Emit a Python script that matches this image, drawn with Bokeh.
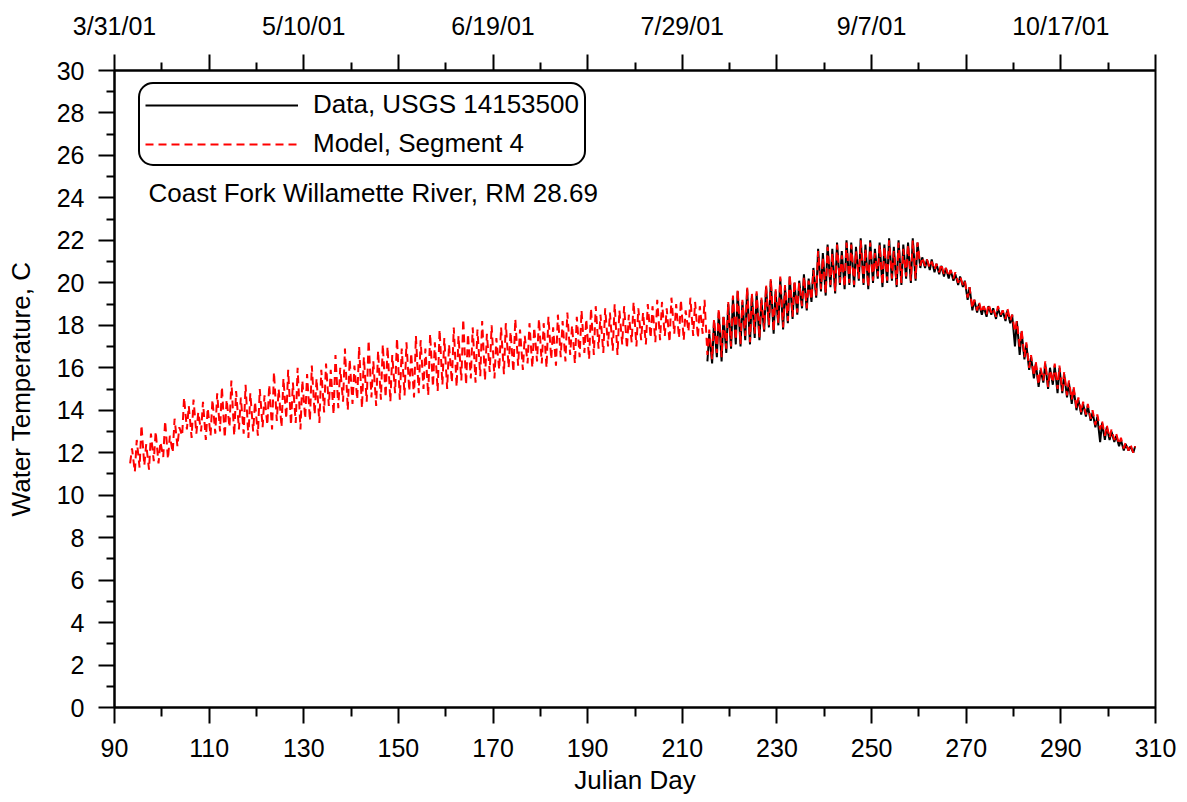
from bokeh.plotting import figure
from bokeh.models import Range1d, LinearAxis, FixedTicker, Legend, LegendItem, Label
from bokeh.embed import file_html
from bokeh.resources import INLINE

# ---------------- data ----------------
# Model, Segment 4: daily minimum / maximum water temperature (C), Julian days 93..305
model_first_day = 93
model_min = [
    11.5, 11.1, 11.3, 11.4, 11.2, 11.6, 11.5, 11.8, 11.7,            # 93-101
    12.0, 12.3,                                                      # 102-103
    12.8, 13.1, 12.7, 12.9, 13.0, 12.6, 12.8,                        # 104-110
    12.9, 13.0, 12.7, 13.2, 12.8, 13.1, 12.9, 12.7, 13.0, 12.8, 13.2,  # 111-121
    13.3, 13.1, 13.5, 13.2, 13.6, 13.3, 13.4, 13.1, 13.6, 13.5, 13.8, 13.4,  # 122-133
    13.9, 14.2, 13.8, 14.1, 14.4, 14.0, 14.3, 14.5, 14.1, 14.4, 14.6, 14.2, 14.5,  # 134-146
    14.6, 14.4, 14.8, 14.5, 14.7, 14.9, 14.6,                        # 147-153
    14.8, 15.0, 14.7, 15.1, 14.9, 15.2, 15.0, 15.3, 15.1, 15.4, 15.2, 15.5,  # 154-165
    15.3, 15.6, 15.4, 15.8, 15.5, 15.9, 15.7, 16.0, 15.8, 16.1, 15.9, 16.2, 16.0, 16.3,  # 166-179
    16.2, 16.0, 16.4, 16.1, 16.5, 16.3, 16.6, 16.2, 16.5, 16.7, 16.4,  # 180-190
    16.6, 16.9, 16.7, 17.0, 16.8, 16.6, 17.1, 16.9, 17.2, 17.0, 17.3, 17.1, 17.4, 17.2,  # 191-204
    17.3, 17.5, 17.2, 17.6, 17.4, 17.3, 17.7, 17.5, 17.4, 17.6,      # 205-214
    16.6, 16.4, 16.7, 16.5, 16.9,                                    # 215-219
    17.0, 17.3, 17.1, 17.5, 17.2, 17.6, 17.4,                        # 220-226
    17.8, 18.0, 17.7, 18.1, 17.9, 18.2, 18.4,                        # 227-233
    18.6, 18.9, 18.8, 19.2,                                          # 234-237
    19.4, 19.7, 19.5, 19.9, 19.6, 20.0, 19.8,                        # 238-244
    20.0, 19.9, 20.2, 20.0, 19.8, 20.1, 20.3, 19.9, 20.1, 20.2, 19.9, 20.0, 20.3, 20.1, 20.2,  # 245-259
    20.8, 20.8, 20.7, 20.6, 20.5, 20.4, 20.3, 20.2, 20.0, 19.9,      # 260-269
    19.3, 18.8,                                                      # 270-271
    18.7, 18.6, 18.5, 18.6, 18.4, 18.5, 18.3, 18.2,                  # 272-279
    17.7, 17.0, 16.5, 16.0, 15.6,                                    # 280-284
    15.2, 15.4, 15.1, 15.3, 15.0, 14.9, 14.7, 14.5,                  # 285-292
    14.1, 13.9, 13.8, 13.6,                                          # 293-296
    13.3, 13.1, 12.8, 12.7,                                          # 297-300
    12.6, 12.4, 12.2, 12.1, 12.0,                                    # 301-305
]
model_max = [
    12.2, 12.6, 13.3, 12.4, 12.9, 13.0, 12.5, 13.5, 12.8,            # 93-101
    13.6, 13.2,                                                      # 102-103
    14.6, 14.2, 14.5, 13.9, 14.4, 14.1, 14.5,                        # 104-110
    14.8, 15.1, 14.5, 15.4, 14.9, 14.6, 15.2, 14.8, 14.4, 15.0, 14.7,  # 111-121
    15.2, 15.8, 15.0, 15.5, 15.9, 15.3, 16.0, 15.4, 15.7, 16.1, 15.5, 15.9,  # 122-133
    16.2, 15.9, 16.6, 16.0, 16.9, 16.4, 16.1, 17.0, 16.5, 17.3, 16.3, 16.8, 17.1,  # 134-146
    17.0, 16.6, 17.4, 16.9, 17.2, 16.7, 17.5,                        # 147-153
    17.3, 16.9, 17.6, 17.2, 17.8, 17.4, 17.1, 17.9, 17.5, 18.3, 17.6, 17.9,  # 154-165
    17.8, 18.2, 17.6, 18.0, 17.4, 17.9, 18.1, 17.7, 18.3, 17.8, 17.5, 18.1, 17.9, 18.3,  # 166-179
    18.1, 18.4, 17.9, 18.5, 18.2, 18.6, 18.0, 18.4, 18.7, 18.3, 18.8,  # 180-190
    18.9, 18.5, 18.8, 18.6, 19.0, 18.7, 18.9, 18.5, 19.1, 18.8, 18.6, 19.0, 18.9, 19.2,  # 191-204
    19.1, 18.8, 19.3, 19.0, 19.2, 18.7, 19.3, 19.1, 18.9, 19.2,      # 205-214
    17.8, 18.3, 18.8, 18.5, 19.1,                                    # 215-219
    19.4, 19.7, 19.2, 19.8, 19.5, 19.6, 19.3,                        # 220-226
    19.9, 20.2, 19.7, 20.3, 19.9, 20.4, 20.1,                        # 227-233
    20.0, 20.3, 20.1, 20.6,                                          # 234-237
    21.5, 21.2, 21.7, 21.4, 21.8, 21.3, 21.9,                        # 238-244
    21.8, 21.5, 22.0, 21.6, 21.9, 21.4, 21.8, 21.7, 22.0, 21.5, 21.9, 21.6, 21.8, 22.0, 21.9,  # 245-259
    21.2, 21.1, 21.0, 20.9, 20.9, 20.7, 20.6, 20.5, 20.3, 20.1,      # 260-269
    19.8, 19.2,                                                      # 270-271
    19.1, 18.9, 19.0, 18.8, 18.9, 18.7, 18.8, 18.5,                  # 272-279
    18.2, 17.8, 17.2, 16.6, 16.3,                                    # 280-284
    16.0, 16.3, 15.9, 16.2, 16.1, 15.8, 15.4, 15.1,                  # 285-292
    14.6, 14.4, 14.3, 14.0,                                          # 293-296
    13.8, 13.5, 13.3, 13.1,                                          # 297-300
    12.9, 12.7, 12.5, 12.4, 12.3,                                    # 301-305
]

# Data, USGS 14153500: daily minimum / maximum (C), Julian days 215..305
data_first_day = 215
data_min = [
    16.3, 16.2, 16.5, 16.3, 16.7,                                    # 215-219
    16.9, 17.1, 17.0, 17.3, 17.1, 17.4, 17.3,                        # 220-226
    17.7, 17.9, 17.6, 18.0, 17.8, 18.1, 18.3,                        # 227-233
    18.5, 18.8, 18.7, 19.1,                                          # 234-237
    19.3, 19.6, 19.4, 19.8, 19.5, 19.9, 19.7,                        # 238-244
    19.9, 19.8, 20.1, 19.9, 19.7, 20.0, 20.2, 19.8, 20.0, 20.1, 19.8, 19.9, 20.2, 20.0, 20.1,  # 245-259
    20.7, 20.7, 20.6, 20.5, 20.4, 20.3, 20.2, 20.1, 19.9, 19.8,      # 260-269
    19.2, 18.7,                                                      # 270-271
    18.6, 18.5, 18.4, 18.5, 18.3, 18.4, 18.2, 18.1,                  # 272-279
    17.0, 16.6, 16.4, 15.9, 15.5,                                    # 280-284
    15.1, 15.3, 15.0, 15.2, 14.8, 14.8, 14.6, 14.3,                  # 285-292
    14.0, 13.8, 13.7, 13.5,                                          # 293-296
    13.2, 12.5, 12.6, 12.6,                                          # 297-300
    12.5, 12.3, 12.1, 12.1, 12.0,                                    # 301-305
]
data_max = [
    17.6, 18.2, 18.6, 18.4, 19.0,                                    # 215-219
    19.3, 19.6, 19.1, 19.7, 19.4, 19.5, 19.2,                        # 220-226
    19.8, 20.1, 19.6, 20.2, 19.8, 20.3, 20.0,                        # 227-233
    20.1, 20.4, 20.2, 20.7,                                          # 234-237
    21.6, 21.4, 21.8, 21.6, 21.9, 21.5, 22.0,                        # 238-244
    21.9, 21.7, 22.1, 21.8, 22.0, 21.6, 21.9, 21.8, 22.1, 21.7, 22.0, 21.8, 21.9, 22.1, 21.9,  # 245-259
    21.2, 21.1, 21.1, 20.9, 20.8, 20.7, 20.6, 20.4, 20.3, 20.1,      # 260-269
    19.8, 19.2,                                                      # 270-271
    19.0, 18.9, 18.9, 18.8, 18.8, 18.7, 18.7, 18.5,                  # 272-279
    18.2, 17.7, 17.1, 16.5, 16.2,                                    # 280-284
    15.9, 16.2, 16.0, 16.1, 16.0, 15.7, 15.3, 15.0,                  # 285-292
    14.5, 14.3, 14.2, 13.9,                                          # 293-296
    13.7, 13.4, 13.2, 13.0,                                          # 297-300
    12.8, 12.6, 12.4, 12.3, 12.3,                                    # 301-305
]

# axis ticks / labels
x_major = [90, 110, 130, 150, 170, 190, 210, 230, 250, 270, 290, 310]
x_minor = [100, 120, 140, 160, 180, 200, 220, 240, 260, 280, 300]
y_major = [0, 2, 4, 6, 8, 10, 12, 14, 16, 18, 20, 22, 24, 26, 28, 30]
y_minor = [1, 3, 5, 7, 9, 11, 13, 15, 17, 19, 21, 23, 25, 27, 29]
date_label_days = [90, 130, 170, 210, 250, 290]
date_labels = ["3/31/01", "5/10/01", "6/19/01", "7/29/01", "9/7/01", "10/17/01"]

legend_labels = ["Data, USGS 14153500", "Model, Segment 4"]
site_label = "Coast Fork Willamette River, RM 28.69"


def diurnal(first_day, mins, maxs):
    """Trace through the daily minimum (morning) and maximum (afternoon)."""
    xs, ys = [], []
    for i, (lo, hi) in enumerate(zip(mins, maxs)):
        d = first_day + i
        xs += [d + 0.3, d + 0.7]
        ys += [lo, hi]
    return xs, ys


mx, my = diurnal(model_first_day, model_min, model_max)
dx, dy = diurnal(data_first_day, data_min, data_max)

FONT = "Liberation Sans"
TICK_FS = "25px"
LABEL_FS = "26px"

p = figure(width=1180, height=802, output_backend="svg", toolbar_location=None,
           x_range=Range1d(90, 310), y_range=Range1d(0, 30),
           min_border_left=114, min_border_right=25,
           min_border_top=70, min_border_bottom=95)
p.background_fill_color = "white"
p.border_fill_color = "white"
p.outline_line_color = "black"
p.outline_line_width = 2
p.xgrid.visible = False
p.ygrid.visible = False


def style_axis(ax, major, minor, standoff, tick_out, minor_out):
    ax.ticker = FixedTicker(ticks=major, minor_ticks=minor)
    ax.axis_line_color = "black"
    ax.axis_line_width = 2
    ax.major_tick_line_color = "black"
    ax.major_tick_line_width = 2
    ax.minor_tick_line_color = "black"
    ax.minor_tick_line_width = 2
    ax.major_tick_in = 0
    ax.major_tick_out = tick_out
    ax.minor_tick_in = 0
    ax.minor_tick_out = minor_out
    ax.major_label_text_font = FONT
    ax.major_label_text_font_size = TICK_FS
    ax.major_label_text_color = "black"
    ax.major_label_standoff = standoff
    ax.axis_label_text_font = FONT
    ax.axis_label_text_font_size = LABEL_FS
    ax.axis_label_text_font_style = "normal"
    ax.axis_label_text_color = "black"


xa = p.xaxis[0]
style_axis(xa, x_major, x_minor, 15, 16, 9)
xa.axis_label = "Julian Day"
xa.axis_label_standoff = 5

ya = p.yaxis[0]
style_axis(ya, y_major, y_minor, 14, 16, 8)
ya.axis_label = "Water Temperature, C"
ya.axis_label_standoff = 18

top = LinearAxis()
style_axis(top, x_major, x_minor, 15, 16, 8)
overrides = {d: "" for d in x_major}
overrides.update({d: s for d, s in zip(date_label_days, date_labels)})
top.major_label_overrides = overrides
p.add_layout(top, "above")

r_data = p.line(dx, dy, line_color="black", line_width=2)
r_model = p.line(mx, my, line_color="#ff0000", line_width=2, line_dash="8 5")

legend = Legend(items=[LegendItem(label=legend_labels[0], renderers=[r_data]),
                       LegendItem(label=legend_labels[1], renderers=[r_model])],
                location=(24, 541), orientation="vertical")
legend.glyph_width = 153
legend.glyph_height = 30
legend.label_standoff = 15
legend.spacing = 8
legend.padding = 5
legend.margin = 0
legend.label_text_font = FONT
legend.label_text_font_size = LABEL_FS
legend.label_text_color = "black"
legend.border_line_color = "black"
legend.border_line_alpha = 1.0
legend.border_line_width = 2
legend.background_fill_color = "white"
legend.background_fill_alpha = 1.0
if "border_radius" in Legend.properties():
    legend.border_radius = 15
p.add_layout(legend, "center")

site = Label(x=97.2, y=24.21, text=site_label, text_font=FONT, text_font_size=LABEL_FS,
             text_baseline="middle", text_align="left", text_color="black")
p.add_layout(site)

open("out.html", "w").write(file_html(p, INLINE))
